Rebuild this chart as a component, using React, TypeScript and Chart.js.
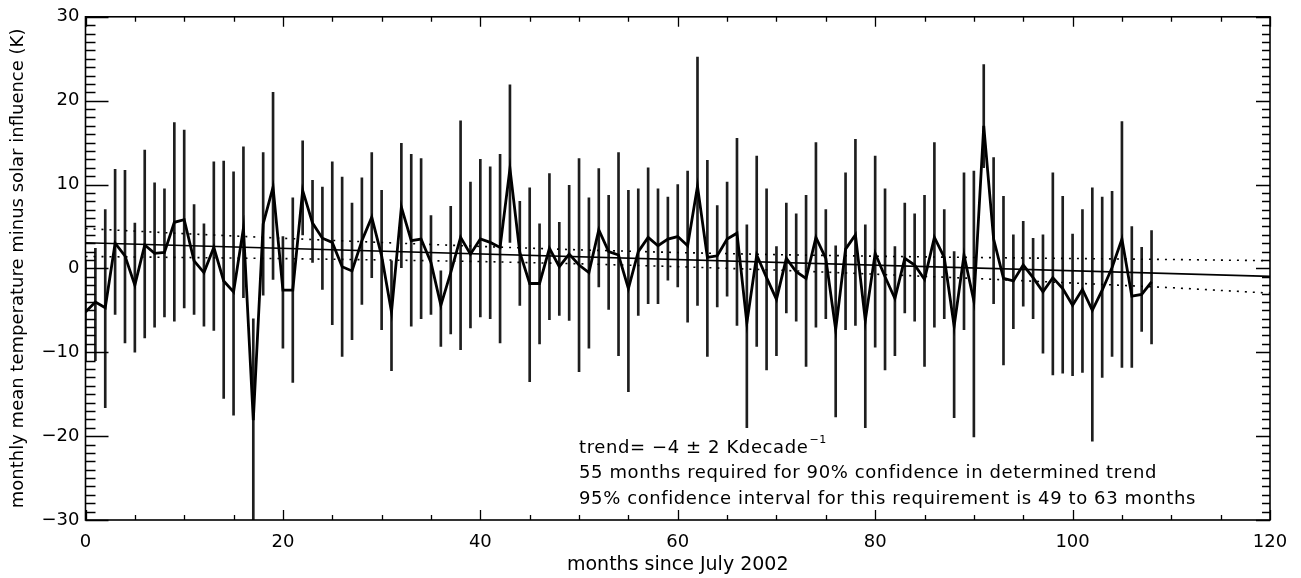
import React, { useEffect, useRef } from 'react';
import { Chart, registerables } from 'chart.js';

Chart.register(...registerables);

// ---- data ----
const MEAN = [
  -5.2, -4.0, -4.7, 3.0, 1.5, -2.0, 2.8, 1.8, 1.9, 5.5,
  5.8, 0.9, -0.5, 2.5, -1.5, -2.8, 4.8, -18.1, 5.3, 9.7,
  -2.6, -2.6, 9.3, 5.4, 3.6, 3.1, 0.2, -0.3, 3.3, 6.1,
  1.5, -5.2, 7.3, 3.3, 3.5, 0.7, -4.4, -0.5, 3.7, 1.7,
  3.5, 3.1, 2.5, 11.9, 1.9, -1.8, -1.8, 2.4, 0.2, 1.7,
  0.4, -0.5, 4.6, 2.0, 1.6, -2.4, 2.0, 3.7, 2.7, 3.5,
  3.8, 2.7, 9.8, 1.3, 1.5, 3.5, 4.2, -6.5, 1.6, -1.1,
  -3.7, 1.2, -0.4, -1.2, 3.7, 1.2, -7.3, 2.3, 4.0, -6.2,
  1.8, -1.0, -3.6, 1.2, 0.4, -1.3, 3.7, 1.3, -6.9, 1.6,
  -3.9, 17.0, 3.5, -1.2, -1.5, 0.4, -1.1, -2.8, -1.1, -2.4,
  -4.4, -2.5, -5.0, -2.6, 0.1, 3.5, -3.3, -3.1, -1.6,
];
const ERR_LOW = [
  -11.0, -11.0, -16.6, -5.5, -8.9, -10.0, -8.3, -7.0, -5.8, -6.3,
  -4.7, -5.5, -6.9, -7.4, -15.5, -17.5, -3.5, -30.5, -3.2, -1.3,
  -9.5, -13.6, 4.0, 0.7, -2.5, -6.7, -10.5, -8.5, -4.3, -1.1,
  -7.3, -12.2, 0.1, -6.9, -6.0, -5.5, -9.3, -7.8, -9.7, -7.1,
  -5.8, -6.0, -8.9, 3.1, -4.4, -13.5, -9.0, -6.1, -5.6, -6.2,
  -12.3, -9.5, -2.2, -4.9, -10.4, -14.7, -5.6, -4.2, -4.2, -1.4,
  -2.2, -6.4, -4.4, -10.5, -4.6, -3.3, -6.8, -19.0, -9.3, -12.1,
  -10.4, -5.3, -6.3, -11.7, -7.0, -6.0, -17.7, -7.3, -6.8, -19.0,
  -9.4, -12.1, -10.4, -5.3, -6.3, -11.7, -7.0, -6.0, -17.8, -7.3,
  -20.1, 12.0, -4.2, -11.5, -7.2, -4.5, -6.0, -10.1, -12.7, -12.5,
  -12.8, -12.4, -20.6, -13.0, -10.5, -11.8, -11.8, -7.5, -9.0,
];
const ERR_HIGH = [
  1.0, 2.4, 7.0, 11.8, 11.7, 5.4, 14.1, 10.2, 9.5, 17.4,
  16.5, 7.6, 5.3, 12.7, 12.8, 11.5, 14.5, -6.0, 13.8, 21.0,
  3.8, 8.4, 15.2, 10.5, 9.7, 12.7, 10.9, 7.8, 10.8, 13.8,
  9.3, 0.9, 14.9, 13.6, 13.1, 6.3, -0.3, 7.4, 17.6, 10.3,
  13.0, 12.1, 13.6, 21.9, 8.0, 9.6, 5.3, 11.3, 5.5, 9.9,
  13.1, 8.4, 11.9, 8.7, 13.8, 9.3, 9.5, 12.0, 9.5, 8.5,
  10.0, 11.6, 25.2, 12.9, 7.5, 10.3, 15.5, 5.2, 13.4, 9.5,
  2.6, 7.8, 6.5, 8.7, 15.0, 7.0, 2.7, 11.4, 15.4, 5.2,
  13.4, 9.5, 2.6, 7.8, 6.5, 8.7, 15.0, 7.0, 2.0, 11.4,
  11.6, 24.3, 13.2, 8.6, 4.0, 5.6, 3.6, 4.0, 11.4, 8.6,
  4.1, 7.0, 9.6, 8.5, 9.2, 17.5, 5.0, 2.5, 4.5,
];
const TREND_X = [0, 120];
const TREND_Y = [3.05, -0.95];
const BAND_X = [0, 10, 20, 30, 40, 50, 60, 70, 80, 90, 100, 110, 120];
const BAND_UPPER = [4.75, 4.14, 3.59, 3.09, 2.62, 2.21, 1.89, 1.64, 1.45, 1.30, 1.18, 1.06, 0.92];
const BAND_LOWER = [1.42, 1.30, 1.17, 1.01, 0.82, 0.55, 0.21, -0.20, -0.69, -1.20, -1.74, -2.30, -2.95];
const ANNOTATION_LINES = [
  'trend= \u22124 \u00b1 2 Kdecade',
  '55 months required for 90% confidence in determined trend',
  '95% confidence interval for this requirement is 49 to 63 months',
];
const ANNOTATION_SUP = '\u22121';
const X_TITLE = 'months since July 2002';
const Y_TITLE = 'monthly mean temperature minus solar influence (K)';

const FONT = '"DejaVu Sans", sans-serif';

const framePlugin = {
  id: 'frameTicks',
  afterDraw(chart: any) {
    const { ctx, chartArea: a, scales } = chart;
    const xs = scales.x;
    const ys = scales.y;
    ctx.save();
    ctx.strokeStyle = '#000';
    ctx.lineWidth = 1.6;
    ctx.strokeRect(a.left, a.top, a.right - a.left, a.bottom - a.top);
    ctx.lineWidth = 1.3;
    ctx.beginPath();
    for (let v = -30; v <= 30; v += 1) {
      const p = Math.round(ys.getPixelForValue(v)) + 0.5;
      const major = v % 10 === 0;
      const l = major ? 23 : 10;
      const r = major ? 14 : 8;
      ctx.moveTo(a.left, p);
      ctx.lineTo(a.left + l, p);
      ctx.moveTo(a.right, p);
      ctx.lineTo(a.right - r, p);
    }
    for (let m = 0; m <= 120; m += 5) {
      const p = Math.round(xs.getPixelForValue(m)) + 0.5;
      const major = m % 20 === 0;
      const l = major ? 10 : 5;
      ctx.moveTo(p, a.bottom);
      ctx.lineTo(p, a.bottom - l);
      ctx.moveTo(p, a.top);
      ctx.lineTo(p, a.top + l);
    }
    ctx.stroke();

    // annotation
    ctx.fillStyle = '#000';
    ctx.textBaseline = 'middle';
    ctx.textAlign = 'left';
    try { (ctx as any).letterSpacing = '0.6px'; } catch (e) { /* ignore */ }
    const x0 = xs.getPixelForValue(50);
    const yBase = a.bottom;
    const offs = [-72, -47, -21];
    ANNOTATION_LINES.forEach((t, i) => {
      ctx.font = `18px ${FONT}`;
      ctx.fillText(t, x0, yBase + offs[i]);
      if (i === 0) {
        const w = ctx.measureText(t).width;
        ctx.font = `11px ${FONT}`;
        ctx.fillText(ANNOTATION_SUP, x0 + w + 1, yBase + offs[i] - 8);
      }
    });
    try { (ctx as any).letterSpacing = '0px'; } catch (e) { /* ignore */ }
    ctx.restore();
  },
};

export default function App() {
  const ref = useRef<HTMLCanvasElement | null>(null);

  useEffect(() => {
    document.body.style.margin = '0';
    document.body.style.overflow = 'hidden';
    const canvas = ref.current;
    if (!canvas) return;

    const barData = MEAN.map((_, i) => ({ x: i, y: [ERR_LOW[i], ERR_HIGH[i]] }));
    const meanData = MEAN.map((v, i) => ({ x: i, y: v }));
    const trendData = TREND_X.map((x, i) => ({ x, y: TREND_Y[i] }));
    const upData = BAND_X.map((x, i) => ({ x, y: BAND_UPPER[i] }));
    const loData = BAND_X.map((x, i) => ({ x, y: BAND_LOWER[i] }));

    const chart = new Chart(canvas, {
      type: 'bar',
      data: {
        datasets: [
          {
            type: 'line',
            data: meanData as any,
            borderColor: '#000',
            borderWidth: 2.8,
            pointRadius: 0,
            tension: 0,
            order: 1,
          },
          {
            type: 'line',
            data: trendData as any,
            borderColor: '#000',
            borderWidth: 1.6,
            pointRadius: 0,
            order: 2,
          },
          {
            type: 'line',
            data: upData as any,
            borderColor: '#000',
            borderWidth: 1.6,
            borderDash: [2, 6],
            pointRadius: 0,
            order: 2,
          },
          {
            type: 'line',
            data: loData as any,
            borderColor: '#000',
            borderWidth: 1.6,
            borderDash: [2, 6],
            pointRadius: 0,
            order: 2,
          },
          {
            type: 'bar',
            data: barData as any,
            backgroundColor: '#1e1e1e',
            borderWidth: 0,
            barThickness: 2,
            order: 3,
          },
        ],
      },
      options: {
        responsive: false,
        animation: false,
        events: [],
        layout: { padding: { top: 12, right: 31, left: 0, bottom: 0 } },
        plugins: { legend: { display: false }, tooltip: { enabled: false } },
        scales: {
          x: {
            type: 'linear',
            min: 0,
            max: 120,
            offset: false,
            grid: { display: false, drawTicks: false },
            border: { display: false },
            ticks: {
              stepSize: 20,
              padding: 12,
              color: '#000',
              font: { family: FONT, size: 18 },
              maxRotation: 0,
            },
            title: {
              display: true,
              text: X_TITLE,
              color: '#000',
              font: { family: FONT, size: 19 },
              padding: { top: 0, bottom: 2 },
            },
            afterFit: (s: any) => {
              s.height = 58;
            },
          },
          y: {
            type: 'linear',
            min: -30,
            max: 30,
            grid: { display: false, drawTicks: false },
            border: { display: false },
            ticks: {
              stepSize: 10,
              padding: 6,
              color: '#000',
              font: { family: FONT, size: 18 },
              callback: (v: any) => String(v).replace('-', '\u2212'),
            },
            title: {
              display: true,
              text: Y_TITLE,
              color: '#000',
              font: { family: FONT, size: 18 },
              padding: { top: 8, bottom: 0 },
            },
            afterFit: (s: any) => {
              s.width = 85.5;
            },
          },
        },
      },
      plugins: [framePlugin],
    });

    return () => chart.destroy();
  }, []);

  return (
    <div style={{ width: 1301, height: 578, background: '#fff' }}>
      <canvas ref={ref} width={1301} height={578} />
    </div>
  );
}
